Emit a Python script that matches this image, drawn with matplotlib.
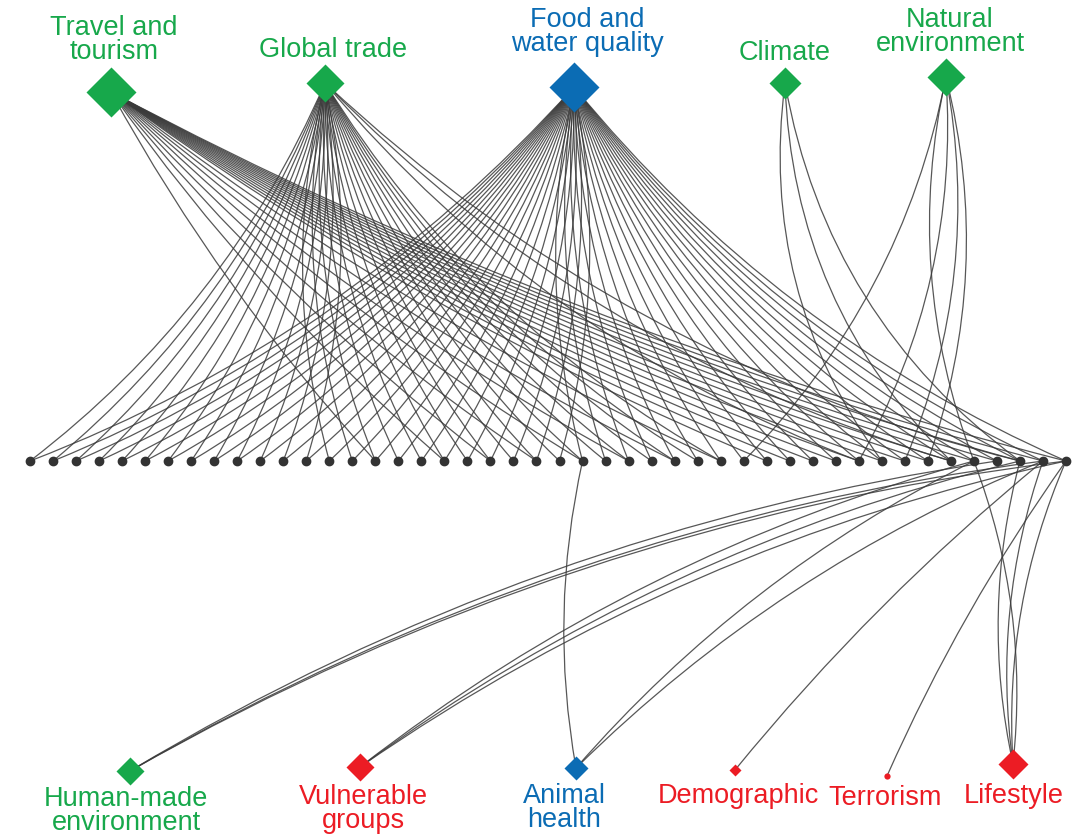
import matplotlib
matplotlib.use('Agg')
import matplotlib.pyplot as plt
import numpy as np
from matplotlib.patches import FancyArrowPatch

plt.rcParams['font.family'] = ['Liberation Sans', 'DejaVu Sans']

GREEN = '#17a84b'
BLUE = '#0b6cb4'
RED = '#ec1c24'

# driver nodes (top row) and outcome nodes (bottom row)
top_names = ['Travel and\ntourism', 'Global trade', 'Food and\nwater quality',
             'Climate', 'Natural\nenvironment']
top_colors = [GREEN, GREEN, BLUE, GREEN, GREEN]
top_sizes = [25, 19, 25, 16, 19]

bottom_names = ['Human-made\nenvironment', 'Vulnerable\ngroups', 'Animal\nhealth',
                'Demographic', 'Terrorism', 'Lifestyle']
bottom_colors = [GREEN, RED, BLUE, RED, RED, RED]
bottom_sizes = [14, 14.5, 12, 6, 4.5, 15]

n_mid = 46

# links: node -> indices of middle dots
top_links = {
    'Travel and\ntourism': [15, 18, 20, 22, 24, 26, 28, 30, 32, 33, 34, 35,
                            36, 37, 38, 39, 40, 41, 42, 43, 44, 45],
    'Global trade': [0, 1, 2, 3, 4, 5, 6, 7, 8, 9, 10, 11, 12, 13, 14, 15, 16,
                     17, 18, 19, 20, 21, 22, 23, 24, 25, 26, 27, 28, 29, 30,
                     36, 40, 43],
    'Food and\nwater quality': [0, 1, 2, 3, 4, 5, 6, 7, 8, 9, 10, 11, 12, 13,
                                14, 15, 16, 17, 18, 19, 20, 21, 22, 23, 24, 25,
                                26, 27, 28, 29, 30, 31, 32, 33, 34, 35, 36, 37,
                                38, 39, 40, 41, 42, 43, 44, 45],
    'Climate': [37, 40, 43],
    'Natural\nenvironment': [31, 36, 38, 39, 41],
}
bottom_links = {
    'Human-made\nenvironment': [42, 44, 45],
    'Vulnerable\ngroups': [41, 43, 45],
    'Animal\nhealth': [24, 41, 44],
    'Demographic': [44],
    'Terrorism': [45],
    'Lifestyle': [41, 43, 44, 45],
}

# layout (pixel-like coordinates) and edge bend per node
mid_x = np.linspace(30, 1066, n_mid)
mid_y = 461
top_pos = {'Travel and\ntourism': (111, 92), 'Global trade': (325, 83),
           'Food and\nwater quality': (574, 87), 'Climate': (785, 83),
           'Natural\nenvironment': (946, 77)}
top_label = {'Travel and\ntourism': (114, 40), 'Global trade': (333, 50),
             'Food and\nwater quality': (587, 32), 'Climate': (785, 53),
             'Natural\nenvironment': (950, 32)}
top_rad = {'Travel and\ntourism': 0.06, 'Global trade': 0.13,
           'Food and\nwater quality': 0.12, 'Climate': 0.2,
           'Natural\nenvironment': 0.15}
bottom_pos = {'Human-made\nenvironment': (130, 771), 'Vulnerable\ngroups': (360, 767),
              'Animal\nhealth': (576, 768), 'Demographic': (735, 770),
              'Terrorism': (887, 776), 'Lifestyle': (1013, 764)}
bottom_label = {'Human-made\nenvironment': (126, 811), 'Vulnerable\ngroups': (363, 809),
                'Animal\nhealth': (564, 808), 'Demographic': (738, 796),
                'Terrorism': (885, 798), 'Lifestyle': (1014, 796)}
bottom_rad = {'Human-made\nenvironment': 0.1, 'Vulnerable\ngroups': 0.1,
              'Animal\nhealth': 0.1, 'Demographic': 0.05, 'Terrorism': 0.05,
              'Lifestyle': 0.12}

fig = plt.figure(figsize=(10.82, 8.36), dpi=100)
ax = fig.add_axes([0, 0, 1, 1])
ax.set_xlim(0, 1082)
ax.set_ylim(836, 0)
ax.axis('off')


def link(src, dst, rad=0.15):
    # bend so the curve leaves the node steeply and meets the dot row flat
    s = ax.transData.transform(src)
    t = ax.transData.transform(dst)
    corner = np.array([s[0], t[1]])
    mid = (s + t) / 2
    d = t - s
    v = np.array([d[1], -d[0]])
    sign = 1 if np.dot(v, corner - mid) > 0 else -1
    p = FancyArrowPatch(src, dst, arrowstyle='-', shrinkA=0, shrinkB=0,
                        connectionstyle='arc3,rad=%.3f' % (sign * rad),
                        color='#3a3a3a', lw=0.9, alpha=0.85, zorder=1)
    ax.add_patch(p)


for name, idx in top_links.items():
    for i in idx:
        link(top_pos[name], (mid_x[i], mid_y), top_rad[name])
for name, idx in bottom_links.items():
    for i in idx:
        link(bottom_pos[name], (mid_x[i], mid_y), bottom_rad[name])

ax.plot(mid_x, np.full(n_mid, mid_y), 'o', color='#333333', ms=6, zorder=3)

for name, c, s in zip(top_names, top_colors, top_sizes):
    x, y = top_pos[name]
    ax.plot(x, y, 'D', color=c, ms=s, mec='none', zorder=4)
    lx, ly = top_label[name]
    ax.text(lx, ly, name, color=c, fontsize=19.5, ha='center', va='center',
            linespacing=0.9)

for name, c, s in zip(bottom_names, bottom_colors, bottom_sizes):
    x, y = bottom_pos[name]
    mk = 'o' if s < 5 else 'D'
    ax.plot(x, y, mk, color=c, ms=s, mec='none', zorder=4)
    lx, ly = bottom_label[name]
    ax.text(lx, ly, name, color=c, fontsize=19.5, ha='center', va='center',
            linespacing=0.9)

fig.savefig('out.png', dpi=100)
